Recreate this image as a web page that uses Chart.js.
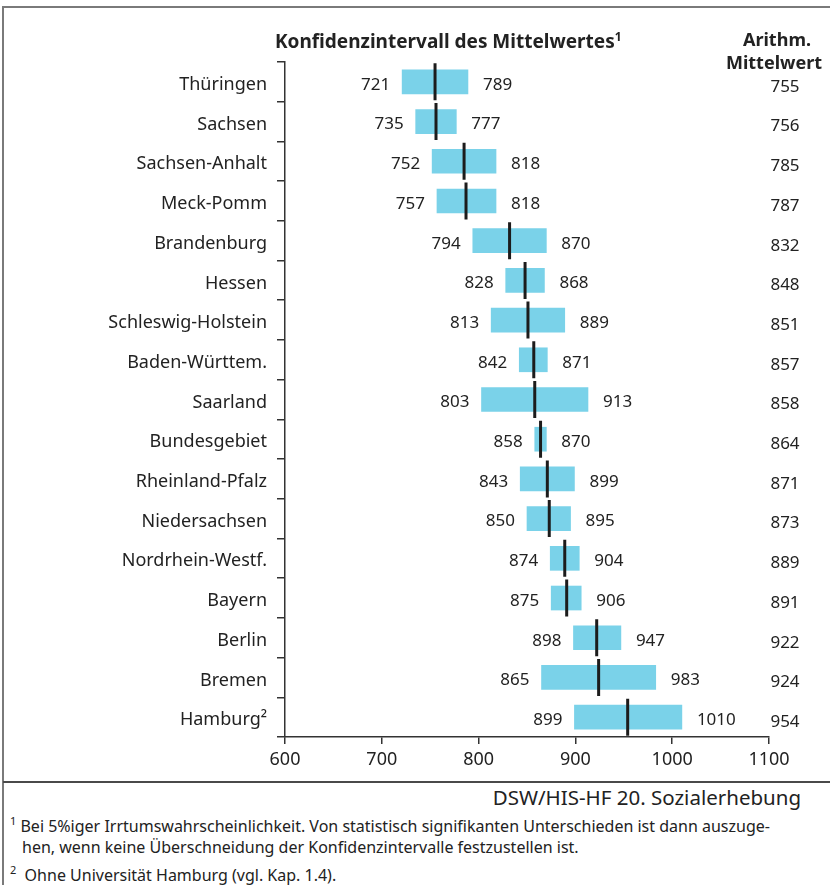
<!DOCTYPE html>
<html lang="de">
<head>
<meta charset="utf-8">
<title>Konfidenzintervall des Mittelwertes</title>
<script src="https://cdn.jsdelivr.net/npm/chart.js@4.4.1/dist/chart.umd.min.js"></script>
<style>
    html, body { margin: 0; padding: 0; background: #fff; }
    body { font-family: "Noto Sans", sans-serif; color: #222; }
    #wrap { position: relative; width: 830px; height: 885px; overflow: hidden; }
    #chart { position: absolute; left: 0; top: 0; }
    .abs { position: absolute; white-space: nowrap; }
    .head { font-weight: bold; font-size: 18px; line-height: 22px; }
    .note { font-size: 16px; line-height: 20px; }
    .note sup { font-size: 11px; position: relative; top: -1px; }
</style>
</head>
<body>
<div id="wrap">
    <!-- frame -->
    <div class="abs" style="left:2px; top:6px; width:830px; border-top:2px solid #7a7a7a;"></div>
    <div class="abs" style="left:2px; top:6px; height:885px; border-left:2px solid #7a7a7a;"></div>
    <div class="abs" style="left:3px; top:781px; width:830px; border-top:2px solid #4a4a4a;"></div>

    <canvas id="chart" width="830" height="781"></canvas>

    <!-- headings -->
    <div class="abs head" style="left:275px; top:26px; font-size:19px;">Konfidenzintervall des Mittelwertes<sup style="font-size:12px">1</sup></div>
    <div class="abs head" style="left:720px; width:114px; top:28px; text-align:center;">Arithm.</div>
    <div class="abs head" style="left:717px; width:114px; top:51px; text-align:center;">Mittelwert</div>

    <!-- source and footnotes -->
    <div class="abs" style="right:29px; top:784px; font-size:20.5px; line-height:26px;">DSW/HIS-HF 20. Sozialerhebung</div>
    <div class="abs note" style="left:10px; top:812px;"><sup>1</sup> Bei 5%iger Irrtumswahrscheinlichkeit. Von statistisch signifikanten Unterschieden ist dann auszuge-</div>
    <div class="abs note" style="left:22px; top:837px;">hen, wenn keine Überschneidung der Konfidenzintervalle festzustellen ist.</div>
    <div class="abs note" style="left:10px; top:861px;"><sup>2</sup>&nbsp; Ohne Universität Hamburg (vgl. Kap. 1.4).</div>
</div>

<script>
// Bundesländer, sortiert nach dem arithmetischen Mittelwert
const laender = ['Thüringen', 'Sachsen', 'Sachsen-Anhalt', 'Meck-Pomm', 'Brandenburg', 'Hessen',
    'Schleswig-Holstein', 'Baden-Württem.', 'Saarland', 'Bundesgebiet', 'Rheinland-Pfalz',
    'Niedersachsen', 'Nordrhein-Westf.', 'Bayern', 'Berlin', 'Bremen', 'Hamburg²'];
const untereGrenze = [721, 735, 752, 757, 794, 828, 813, 842, 803, 858, 843, 850, 874, 875, 898, 865, 899];
const obereGrenze = [789, 777, 818, 818, 870, 868, 889, 871, 913, 870, 899, 895, 904, 906, 947, 983, 1010];
const mittelwert = [755, 756, 785, 787, 832, 848, 851, 857, 858, 864, 871, 873, 889, 891, 922, 924, 954];
const xTicks = [600, 700, 800, 900, 1000, 1100];

const textColor = '#222';
const axisColor = '#333';
const fontFamily = '"Noto Sans", sans-serif';

// Zahlen links/rechts vom Balken und die Spalte mit dem Mittelwert
const intervallLabels = {
    id: 'intervallLabels',
    afterDatasetsDraw(chart) {
        const { ctx, scales: { x, y } } = chart;
        ctx.save();
        ctx.font = '17px ' + fontFamily;
        ctx.fillStyle = textColor;
        ctx.textBaseline = 'middle';
        laender.forEach((land, i) => {
            const yPos = y.getPixelForValue(i) + 3;
            ctx.textAlign = 'right';
            ctx.fillText(String(untereGrenze[i]), x.getPixelForValue(untereGrenze[i]) - 12, yPos);
            ctx.textAlign = 'left';
            ctx.fillText(String(obereGrenze[i]), x.getPixelForValue(obereGrenze[i]) + 15, yPos);
            ctx.textAlign = 'center';
            ctx.fillText(String(mittelwert[i]), 785, yPos + 2);
        });
        ctx.restore();
    }
};

const chart = new Chart(document.getElementById('chart'), {
    type: 'bar',
    data: {
        labels: laender,
        datasets: [
            {
                label: 'Konfidenzintervall',
                indexAxis: 'y',
                data: untereGrenze.map((lo, i) => [lo, obereGrenze[i]]),
                backgroundColor: '#7ad2e9',
                borderWidth: 0,
                barThickness: 24,
                order: 2
            },
            {
                label: 'Arithm. Mittelwert',
                type: 'line',
                indexAxis: 'y',
                data: mittelwert,
                showLine: false,
                pointStyle: 'line',
                rotation: 90,
                pointRadius: 18.5,
                pointHoverRadius: 18.5,
                borderColor: '#1c1c1c',
                borderWidth: 3,
                order: 1
            }
        ]
    },
    options: {
        indexAxis: 'y',
        responsive: false,
        animation: false,
        devicePixelRatio: 1,
        layout: { padding: { left: 0, right: 61, top: 62, bottom: 0 } },
        plugins: {
            legend: { display: false },
            tooltip: { enabled: false }
        },
        scales: {
            x: {
                type: 'linear',
                position: 'bottom',
                min: 600,
                max: 1100,
                afterBuildTicks: (scale) => { scale.ticks = xTicks.map(v => ({ value: v })); },
                afterFit: (scale) => { scale.height = 44; },
                ticks: {
                    color: textColor,
                    font: { family: fontFamily, size: 18 },
                    padding: 5,
                    callback: (value) => String(value)
                },
                grid: { drawOnChartArea: false, drawTicks: true, tickLength: 7, color: axisColor, lineWidth: 1.5 },
                border: { display: true, color: axisColor, width: 1.5 }
            },
            y: {
                type: 'category',
                afterFit: (scale) => { scale.width = 285; },
                ticks: { color: textColor, font: { family: fontFamily, size: 18 }, padding: 10, labelOffset: 3 },
                grid: { offset: true, drawOnChartArea: false, drawTicks: true, tickLength: 8, color: axisColor, lineWidth: 1.5 },
                border: { display: true, color: axisColor, width: 1.5 }
            }
        }
    },
    plugins: [intervallLabels]
});
</script>
</body>
</html>
